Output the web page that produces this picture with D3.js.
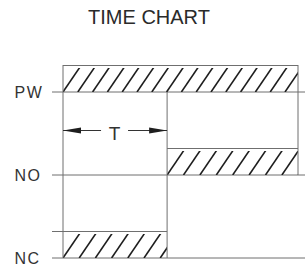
<!DOCTYPE html>
<html>
<head>
<meta charset="utf-8">
<script src="https://cdn.jsdelivr.net/npm/d3@7"></script>
<style>
  html, body { margin: 0; padding: 0; background: #fff; }
  svg { display: block; }
</style>
</head>
<body>
<script>
// ---- data ----
const title = "TIME CHART";
const signals = ["PW", "NO", "NC"];
// time axis: 0 = start, 4.43 = switch instant (T), 10 = end of chart
const timeDomain = [0, 10];
const switchTime = 4.43;
// high intervals per signal [start, end]
const pwHigh = [[0, 10]];
const noHigh = [[4.43, 10]];
const ncHigh = [[0, 4.43]];
const arrowLabel = "T";

const W = 305, H = 267;
const svg = d3.select("body").append("svg").attr("width", W).attr("height", H);

const x = d3.scaleLinear().domain(timeDomain).range([63, 298]);
const y = d3.scalePoint().domain(signals).range([92, 258]);
const levelH = 27;
const lineColor = "#6f6f6f";
const textColor = "#333";

// title
svg.append("text")
  .attr("x", 149).attr("y", 24)
  .attr("text-anchor", "middle")
  .attr("font-family", "Liberation Sans, Arial, sans-serif")
  .attr("font-size", 20)
  .attr("fill", "#2a2a2a")
  .text(title);

// labels
svg.selectAll("text.lbl").data(signals).join("text")
  .attr("class", "lbl")
  .attr("x", 14.5).attr("y", d => y(d) + 5.8)
  .attr("font-family", "Liberation Sans, Arial, sans-serif")
  .attr("font-size", 16)
  .attr("letter-spacing", 1.5)
  .attr("fill", textColor)
  .text(d => d);

const defs = svg.append("defs");
const highs = { PW: pwHigh, NO: noHigh, NC: ncHigh };
const spacing = { PW: 14.8, NO: 16.4, NC: 16.2 };

const g = svg.append("g");

// baselines
signals.forEach(s => {
  g.append("line")
    .attr("x1", 52).attr("x2", W)
    .attr("y1", y(s)).attr("y2", y(s))
    .attr("stroke", lineColor).attr("stroke-width", 1);
});

// hatched boxes
signals.forEach((s, si) => {
  highs[s].forEach((iv, k) => {
    const x0 = x(iv[0]), x1 = x(iv[1]);
    const yb = y(s), yt = y(s) - levelH;
    const id = "clip-" + s + "-" + k;
    defs.append("clipPath").attr("id", id)
      .append("rect").attr("x", x0).attr("y", yt + 3).attr("width", x1 - x0).attr("height", levelH - 3);
    const slope = 0.68;
    const sp = spacing[s];
    const starts = d3.range(x0 - levelH * slope, x1 + 1, sp).map(v => v + levelH * slope);
    g.append("g").attr("clip-path", `url(#${id})`)
      .selectAll("line").data(starts).join("line")
      .attr("x1", d => d).attr("y1", yb)
      .attr("x2", d => d + levelH * slope).attr("y2", yt)
      .attr("stroke", "#1e1e1e").attr("stroke-width", 1.6);
    // top edge
    const topStart = (s === "NC") ? 52 : x0;
    g.append("line")
      .attr("x1", topStart).attr("x2", x1)
      .attr("y1", yt + 0.5).attr("y2", yt + 0.5)
      .attr("stroke", lineColor).attr("stroke-width", 1);
  });
});

// verticals
const yTop = y("PW") - levelH, yBot = y("NC");
g.append("line").attr("x1", x(0)).attr("x2", x(0)).attr("y1", yTop).attr("y2", yBot)
  .attr("stroke", lineColor).attr("stroke-width", 1);
g.append("line").attr("x1", x(switchTime)).attr("x2", x(switchTime)).attr("y1", y("PW")).attr("y2", yBot)
  .attr("stroke", lineColor).attr("stroke-width", 1);
g.append("line").attr("x1", x(10)).attr("x2", x(10)).attr("y1", yTop).attr("y2", y("NO"))
  .attr("stroke", lineColor).attr("stroke-width", 1);

// T dimension arrow
const ay = 130.5;
const xa = x(0), xb = x(switchTime), xm = (xa + xb) / 2;
g.append("line").attr("x1", xa).attr("x2", xm - 14).attr("y1", ay).attr("y2", ay)
  .attr("stroke", "#333").attr("stroke-width", 1);
g.append("line").attr("x1", xm + 13).attr("x2", xb).attr("y1", ay).attr("y2", ay)
  .attr("stroke", "#333").attr("stroke-width", 1);
g.append("path").attr("d", `M${xa},${ay} L${xa + 18},${ay - 3} L${xa + 18},${ay + 3} Z`).attr("fill", "#1e1e1e");
g.append("path").attr("d", `M${xb},${ay} L${xb - 18},${ay - 3} L${xb - 18},${ay + 3} Z`).attr("fill", "#1e1e1e");
svg.append("text")
  .attr("x", xm - 0.5).attr("y", ay + 9.5)
  .attr("text-anchor", "middle")
  .attr("font-family", "Liberation Sans, Arial, sans-serif")
  .attr("font-size", 19)
  .attr("fill", textColor)
  .text(arrowLabel);
</script>
</body>
</html>
